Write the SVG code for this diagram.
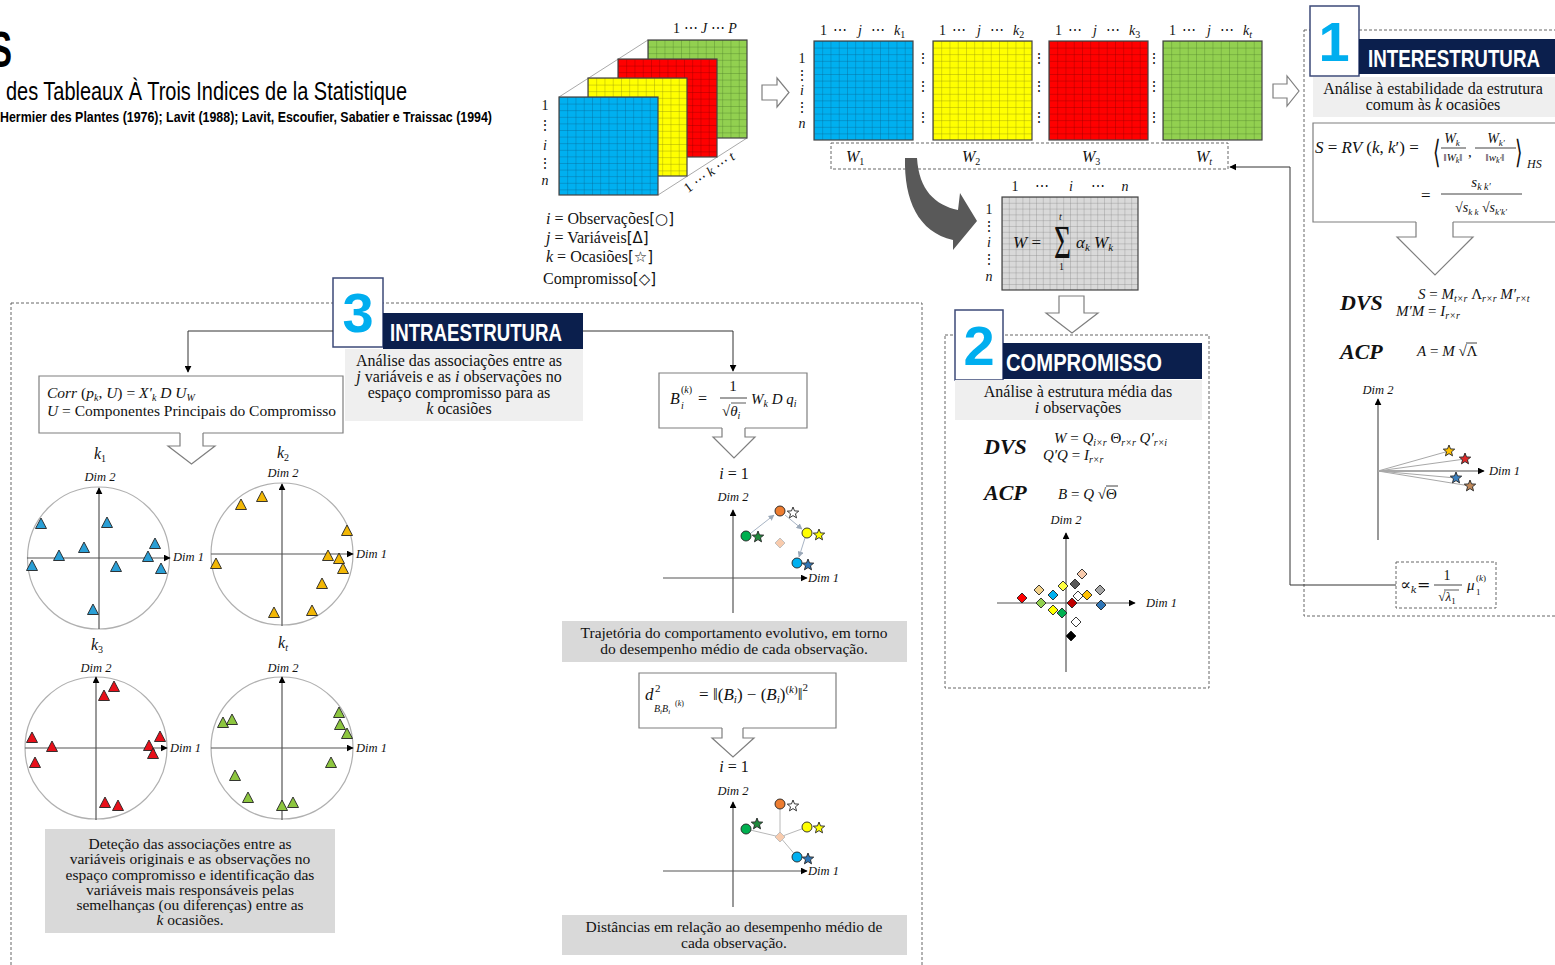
<svg xmlns="http://www.w3.org/2000/svg" width="1555" height="965" viewBox="0 0 1555 965">
<defs>
<style>
.s{font-family:"Liberation Serif","DejaVu Serif",serif;fill:#111}
.i{font-style:italic}
.b{font-weight:bold}
.hd{font-family:"Liberation Sans","DejaVu Sans",sans-serif;font-weight:bold;fill:#fff;font-size:24px}
.nm{font-family:"Liberation Sans","DejaVu Sans",sans-serif;font-weight:bold;fill:#00aeef;font-size:56px}
.dash{fill:none;stroke:#666;stroke-width:1;stroke-dasharray:3 2}
.ax{stroke:#555;stroke-width:1.2;fill:none}
.cir{fill:none;stroke:#b0b0b0;stroke-width:1.2}
.conn{stroke:#333;stroke-width:1;fill:none}
.hol{fill:#fff;stroke:#7f7f7f;stroke-width:1.2}
.box{fill:#fff;stroke:#7f7f7f;stroke-width:1.2}
.sub{fill:#efefef}
.desc{fill:#d9d9d9}
.nb{fill:#fff;stroke:#3d4a78;stroke-width:1.5}
.navy{fill:#0b1f4d}
.dl{font-size:12.5px;font-style:italic}
.pt{stroke:#222;stroke-width:0.9}
.pers{stroke:#aaa;stroke-width:1;fill:none}
.mat{stroke:#444;stroke-width:1.2}
.glin{stroke:#a8a8a8;stroke-width:1;fill:none}
</style>
<marker id="ah" viewBox="0 0 10 10" refX="9" refY="5" markerWidth="7" markerHeight="7" markerUnits="userSpaceOnUse" orient="auto"><path d="M0 0 L10 5 L0 10 Z" fill="#000"/></marker>
<marker id="ahg" viewBox="0 0 10 10" refX="9" refY="5" markerWidth="6" markerHeight="6" markerUnits="userSpaceOnUse" orient="auto"><path d="M0 0 L10 5 L0 10 Z" fill="#9aa8b8"/></marker>
<pattern id="pb" width="8.25" height="6.6" patternUnits="userSpaceOnUse"><rect width="8.25" height="6.6" fill="#00b0f0"/><path d="M0 0H8.25M0 0V6.6" stroke="#0a5f8a" stroke-width="0.7"/></pattern>
<pattern id="py" width="8.25" height="6.6" patternUnits="userSpaceOnUse"><rect width="8.25" height="6.6" fill="#ffff00"/><path d="M0 0H8.25M0 0V6.6" stroke="#8a8a10" stroke-width="0.7"/></pattern>
<pattern id="pr" width="8.25" height="6.6" patternUnits="userSpaceOnUse"><rect width="8.25" height="6.6" fill="#ff0000"/><path d="M0 0H8.25M0 0V6.6" stroke="#8a0000" stroke-width="0.7"/></pattern>
<pattern id="pg" width="8.25" height="6.6" patternUnits="userSpaceOnUse"><rect width="8.25" height="6.6" fill="#92d050"/><path d="M0 0H8.25M0 0V6.6" stroke="#4a7a28" stroke-width="0.7"/></pattern>
<pattern id="pw" width="6.8" height="5.8" patternUnits="userSpaceOnUse"><rect width="6.8" height="5.8" fill="#d9d9d9"/><path d="M0 0H6.8M0 0V5.8" stroke="#7a7a7a" stroke-width="0.6"/></pattern>
<path id="tri" d="M0 -6 L5.5 4.5 L-5.5 4.5 Z"/>
<path id="star" d="M0 -6 L1.53 -2.1 L5.71 -1.85 L2.47 0.8 L3.53 4.85 L0 2.6 L-3.53 4.85 L-2.47 0.8 L-5.71 -1.85 L-1.53 -2.1 Z"/>
<path id="dia" d="M0 -5 L5 0 L0 5 L-5 0 Z"/>
</defs>

<rect width="1555" height="965" fill="#fff"/>

<!-- Title -->
<g id="title">
<text x="-10" y="67" font-family="Liberation Sans, sans-serif" font-weight="bold" font-size="50" textLength="22" lengthAdjust="spacingAndGlyphs" fill="#000">S</text>
<text x="6" y="100" font-family="Liberation Sans, sans-serif" font-size="25" textLength="401" lengthAdjust="spacingAndGlyphs" fill="#000">des Tableaux À Trois Indices de la Statistique</text>
<text x="0" y="122" font-family="Liberation Sans, sans-serif" font-weight="bold" font-size="14" textLength="492" lengthAdjust="spacingAndGlyphs" fill="#000">Hermier des Plantes (1976); Lavit (1988); Lavit, Escoufier, Sabatier e Traissac (1994)</text>
</g>

<!-- Dashed section frames -->
<rect class="dash" x="11" y="303" width="911" height="700"/>
<rect class="dash" x="945" y="335" width="264" height="353"/>
<rect class="dash" x="1304" y="30" width="300" height="586"/>

<!-- Cube -->
<g id="cube">
<line class="pers" x1="559" y1="97" x2="648" y2="40"/>
<line class="pers" x1="658" y1="97" x2="747" y2="40"/>
<line class="pers" x1="658" y1="195" x2="747" y2="138"/>
<g transform="translate(648,40)"><rect width="99" height="98" fill="url(#pg)" class="mat"/></g>
<g transform="translate(618,59)"><rect width="99" height="98" fill="url(#pr)" class="mat"/></g>
<g transform="translate(588,78)"><rect width="99" height="98" fill="url(#py)" class="mat"/></g>
<g transform="translate(559,97)"><rect width="99" height="98" fill="url(#pb)" class="mat"/></g>
<text class="s" x="673" y="33" font-size="14">1 ⋯ <tspan class="i">J</tspan> ⋯ <tspan class="i">P</tspan></text>
<g class="s" font-size="14" text-anchor="middle">
<text x="545" y="110">1</text><text x="545" y="130">⋮</text><text x="545" y="150" class="i">i</text><text x="545" y="168">⋮</text><text x="545" y="185" class="i">n</text>
</g>
<text class="s" font-size="14" text-anchor="middle" transform="translate(712,176) rotate(-36)">1 ⋯ <tspan class="i">k</tspan> ⋯ <tspan class="i">t</tspan></text>
<g class="s" font-size="16">
<text x="546" y="224"><tspan class="i">i</tspan> = Observações<tspan font-family="DejaVu Sans, sans-serif" font-size="15">[○]</tspan></text>
<text x="546" y="243"><tspan class="i">j</tspan> = Variáveis<tspan font-family="DejaVu Sans, sans-serif" font-size="15">[Δ]</tspan></text>
<text x="546" y="262"><tspan class="i">k</tspan> = Ocasiões<tspan font-family="DejaVu Sans, sans-serif" font-size="15">[☆]</tspan></text>
<text x="543" y="284">Compromisso<tspan font-family="DejaVu Sans, sans-serif" font-size="15">[◇]</tspan></text>
</g>
</g>

<!-- Matrices W1..Wt -->
<g id="matrices">
<g transform="translate(814,41)"><rect width="99" height="99" fill="url(#pb)" class="mat"/></g>
<g transform="translate(933,41)"><rect width="99" height="99" fill="url(#py)" class="mat"/></g>
<g transform="translate(1049,41)"><rect width="99" height="99" fill="url(#pr)" class="mat"/></g>
<g transform="translate(1163,41)"><rect width="99" height="99" fill="url(#pg)" class="mat"/></g>
<g class="s" font-size="14">
<text y="35"><tspan x="820">1</tspan><tspan x="833">⋯</tspan><tspan x="858" class="i">j</tspan><tspan x="871">⋯</tspan><tspan x="894" class="i">k</tspan><tspan font-size="10" dy="3">1</tspan></text>
<text y="35"><tspan x="939">1</tspan><tspan x="952">⋯</tspan><tspan x="977" class="i">j</tspan><tspan x="990">⋯</tspan><tspan x="1013" class="i">k</tspan><tspan font-size="10" dy="3">2</tspan></text>
<text y="35"><tspan x="1055">1</tspan><tspan x="1068">⋯</tspan><tspan x="1093" class="i">j</tspan><tspan x="1106">⋯</tspan><tspan x="1129" class="i">k</tspan><tspan font-size="10" dy="3">3</tspan></text>
<text y="35"><tspan x="1169">1</tspan><tspan x="1182">⋯</tspan><tspan x="1207" class="i">j</tspan><tspan x="1220">⋯</tspan><tspan x="1243" class="i">k</tspan><tspan font-size="10" dy="3" class="i">t</tspan></text>
</g>
<g class="s" font-size="14" text-anchor="middle">
<text x="802" y="63">1</text><text x="802" y="80">⋮</text><text x="802" y="95" class="i">i</text><text x="802" y="112">⋮</text><text x="802" y="128" class="i">n</text>
<text x="923" y="63">⋮</text><text x="923" y="91">⋮</text><text x="923" y="122">⋮</text>
<text x="1039" y="63">⋮</text><text x="1039" y="91">⋮</text><text x="1039" y="122">⋮</text>
<text x="1154" y="63">⋮</text><text x="1154" y="91">⋮</text><text x="1154" y="122">⋮</text>
</g>
<rect class="dash" x="831" y="143" width="397" height="26"/>
<g class="s i" font-size="16">
<text x="846" y="162">W<tspan font-size="10" dy="3" font-style="normal">1</tspan></text>
<text x="962" y="162">W<tspan font-size="10" dy="3" font-style="normal">2</tspan></text>
<text x="1082" y="162">W<tspan font-size="10" dy="3" font-style="normal">3</tspan></text>
<text x="1196" y="162">W<tspan font-size="10" dy="3">t</tspan></text>
</g>
</g>

<!-- Hollow right arrows -->
<polygon class="hol" points="762,85 777,85 777,78 789,92.5 777,107 777,100 762,100"/>
<polygon class="hol" points="1273,84 1287,84 1287,76 1299,91 1287,106 1287,98 1273,98"/>

<!-- Curved arrow -->
<path d="M905 158 C 904 200, 918 232, 953 240 L 953 250 L 977 221 L 960 193 L 958 210 C 935 205, 919 190, 917 158 Z" fill="#595959"/>

<!-- Compromise matrix W -->
<g id="compromise-matrix">
<g transform="translate(1002,197)"><rect width="136" height="93" fill="url(#pw)" class="mat"/></g>
<g class="s" font-size="14" text-anchor="middle">
<text x="1015" y="191">1</text><text x="1042" y="191">⋯</text><text x="1071" y="191" class="i">i</text><text x="1098" y="191">⋯</text><text x="1125" y="191" class="i">n</text>
<text x="989" y="214">1</text><text x="989" y="231">⋮</text><text x="989" y="247" class="i">i</text><text x="989" y="264">⋮</text><text x="989" y="281" class="i">n</text>
</g>
<g class="s" font-size="17">
<text x="1013" y="248"><tspan class="i">W</tspan> =</text>
<text x="1054" y="258" font-size="46" textLength="17" lengthAdjust="spacingAndGlyphs">Σ</text>
<text x="1059" y="220" font-size="10" class="i">t</text>
<text x="1059" y="270" font-size="10">1</text>
<text x="1076" y="248" class="i">α<tspan font-size="11" dy="3">k</tspan><tspan dy="-3"> W</tspan><tspan font-size="11" dy="3">k</tspan></text>
</g>
</g>
<polygon class="hol" points="1059,296 1084,296 1084,313 1098,313 1072,333 1046,313 1059,313"/>

<!-- Section 1 -->
<g id="sec1">
<rect class="nb" x="1310" y="6" width="49" height="70"/>
<text class="nm" x="1334" y="61" text-anchor="middle">1</text>
<rect class="navy" x="1359" y="39" width="200" height="35"/>
<text class="hd" x="1368" y="67" textLength="172" lengthAdjust="spacingAndGlyphs">INTERESTRUTURA</text>
<rect class="sub" x="1313" y="77" width="250" height="40"/>
<g class="s" font-size="16" text-anchor="middle">
<text x="1433" y="94">Análise à estabilidade da estrutura</text>
<text x="1433" y="110">comum às <tspan class="i">k</tspan> ocasiões</text>
</g>
<path class="box" d="M1416 222 H1313 V123 H1560 M1453 222 H1560" fill="none"/>
<path class="hol" d="M1416 222 V237 H1397 L1435 275 L1473 237 H1453 V222"/>
<g class="s">
<text x="1315" y="153" font-size="17"><tspan class="i">S</tspan> = <tspan class="i">RV</tspan> (<tspan class="i">k</tspan>, <tspan class="i">k</tspan>′) =</text>
<text x="1433" y="163" font-size="32" font-family="DejaVu Sans, sans-serif" transform="translate(1433,0) scale(0.6,1) translate(-1433,0)">⟨</text>
<text x="1452" y="143" font-size="14" text-anchor="middle" class="i">W<tspan font-size="9" dy="3">k</tspan></text>
<line x1="1441" y1="148" x2="1466" y2="148" stroke="#111" stroke-width="0.8"/>
<text x="1453" y="161" font-size="11" text-anchor="middle">‖<tspan class="i">W</tspan><tspan font-size="8" dy="2" class="i">k</tspan><tspan dy="-2">‖</tspan></text>
<text x="1468" y="157" font-size="15">,</text>
<text x="1496" y="143" font-size="14" text-anchor="middle" class="i">W<tspan font-size="9" dy="3">k′</tspan></text>
<line x1="1475" y1="148" x2="1516" y2="148" stroke="#111" stroke-width="0.8"/>
<text x="1495" y="161" font-size="11" text-anchor="middle">‖<tspan class="i">w</tspan><tspan font-size="8" dy="2" class="i">k′</tspan><tspan dy="-2">‖</tspan></text>
<text x="1515" y="163" font-size="32" font-family="DejaVu Sans, sans-serif" transform="translate(1515,0) scale(0.6,1) translate(-1515,0)">⟩</text>
<text x="1527" y="168" font-size="12" class="i">HS</text>
<text x="1421" y="201" font-size="17">=</text>
<text x="1481" y="187" font-size="15" text-anchor="middle" class="i">s<tspan font-size="10" dy="3">k k′</tspan></text>
<line x1="1441" y1="194" x2="1522" y2="194" stroke="#111" stroke-width="0.8"/>
<text x="1481" y="212" font-size="14" text-anchor="middle">√<tspan class="i">s</tspan><tspan font-size="9" dy="3" class="i">k k</tspan><tspan dy="-3"> √</tspan><tspan class="i">s</tspan><tspan font-size="9" dy="3" class="i">k′k′</tspan></text>
</g>
<g class="s">
<text x="1340" y="310" font-size="22" class="i b">DVS</text>
<text x="1418" y="299" font-size="15"><tspan class="i">S</tspan> = <tspan class="i">M</tspan><tspan font-size="10" dy="3" class="i">t×r</tspan><tspan dy="-3"> Λ</tspan><tspan font-size="10" dy="3" class="i">r×r</tspan><tspan dy="-3" class="i"> M′</tspan><tspan font-size="10" dy="3" class="i">r×t</tspan></text>
<text x="1396" y="316" font-size="15"><tspan class="i">M′M</tspan> = <tspan class="i">I</tspan><tspan font-size="10" dy="3" class="i">r×r</tspan></text>
<text x="1340" y="359" font-size="22" class="i b">ACP</text>
<text x="1417" y="356" font-size="15"><tspan class="i">A</tspan> = <tspan class="i">M</tspan> √Λ</text>
<line x1="1466" y1="343" x2="1477" y2="343" stroke="#111" stroke-width="0.8"/>
</g>
<line class="ax" x1="1378" y1="540" x2="1378" y2="399" marker-end="url(#ah)"/>
<line class="ax" x1="1378" y1="471" x2="1484" y2="471" marker-end="url(#ah)"/>
<text class="s dl" x="1378" y="394" text-anchor="middle">Dim 2</text>
<text class="s dl" x="1489" y="475">Dim 1</text>
<g class="glin">
<line x1="1378" y1="471" x2="1449" y2="451"/>
<line x1="1378" y1="471" x2="1465" y2="459"/>
<line x1="1378" y1="471" x2="1456" y2="478"/>
<line x1="1378" y1="471" x2="1470" y2="486"/>
</g>
<g class="pt">
<use href="#star" x="1449" y="451" fill="#ffc000"/>
<use href="#star" x="1465" y="459" fill="#e02828"/>
<use href="#star" x="1456" y="478" fill="#3a80c0"/>
<use href="#star" x="1470" y="486" fill="#c08858"/>
</g>
<rect class="dash" x="1396" y="562" width="100" height="46"/>
<g class="s">
<text x="1400" y="590" font-size="16" font-family="DejaVu Serif, serif">∝<tspan font-size="10" dy="3" class="i">k</tspan><tspan dy="-3">=</tspan></text>
<text x="1447" y="580" font-size="14" text-anchor="middle">1</text>
<line x1="1434" y1="585" x2="1462" y2="585" stroke="#111" stroke-width="0.8"/>
<text x="1447" y="601" font-size="13" text-anchor="middle">√<tspan class="i">λ</tspan><tspan font-size="9" dy="3">1</tspan></text>
<line x1="1444" y1="590" x2="1459" y2="590" stroke="#111" stroke-width="0.7"/>
<text x="1467" y="590" font-size="15" class="i">μ</text>
<text x="1476" y="581" font-size="9">(<tspan class="i">k</tspan>)</text>
<text x="1476" y="595" font-size="9">1</text>
</g>
</g>

<!-- Section 2 -->
<g id="sec2">
<rect class="nb" x="955" y="310" width="48" height="70"/>
<text class="nm" x="979" y="365" text-anchor="middle">2</text>
<rect class="navy" x="1003" y="343" width="199" height="36"/>
<text class="hd" x="1006" y="371" textLength="156" lengthAdjust="spacingAndGlyphs">COMPROMISSO</text>
<rect class="sub" x="955" y="380" width="247" height="40"/>
<g class="s" font-size="16" text-anchor="middle">
<text x="1078" y="397">Análise à estrutura média das</text>
<text x="1078" y="413"><tspan class="i">i</tspan> observações</text>
</g>
<g class="s">
<text x="984" y="454" font-size="22" class="i b">DVS</text>
<text x="1054" y="443" font-size="15"><tspan class="i">W</tspan> = <tspan class="i">Q</tspan><tspan font-size="10" dy="3" class="i">i×r</tspan><tspan dy="-3"> Θ</tspan><tspan font-size="10" dy="3" class="i">r×r</tspan><tspan dy="-3" class="i"> Q′</tspan><tspan font-size="10" dy="3" class="i">r×i</tspan></text>
<text x="1043" y="460" font-size="15"><tspan class="i">Q′Q</tspan> = <tspan class="i">I</tspan><tspan font-size="10" dy="3" class="i">r×r</tspan></text>
<text x="984" y="500" font-size="22" class="i b">ACP</text>
<text x="1058" y="499" font-size="15"><tspan class="i">B</tspan> = <tspan class="i">Q</tspan> √Θ</text>
<line x1="1106" y1="486" x2="1118" y2="486" stroke="#111" stroke-width="0.8"/>
</g>
<line class="ax" x1="1066" y1="672" x2="1066" y2="533" marker-end="url(#ah)"/>
<line class="ax" x1="997" y1="603" x2="1135" y2="603" marker-end="url(#ah)"/>
<text class="s dl" x="1066" y="524" text-anchor="middle">Dim 2</text>
<text class="s dl" x="1146" y="607">Dim 1</text>
<g class="pt">
<use href="#dia" x="1022" y="598" fill="#ff0000"/>
<use href="#dia" x="1041" y="603" fill="#92d050"/>
<use href="#dia" x="1039" y="590" fill="#f4d38a"/>
<use href="#dia" x="1053" y="595" fill="#00b0f0"/>
<use href="#dia" x="1063" y="586" fill="#ffff40"/>
<use href="#dia" x="1053" y="610" fill="#ffff00"/>
<use href="#dia" x="1062" y="613" fill="#00b050"/>
<use href="#dia" x="1075" y="584" fill="#595959"/>
<use href="#dia" x="1082" y="574" fill="#f8cbad"/>
<use href="#dia" x="1072" y="603" fill="#c00000"/>
<use href="#dia" x="1078" y="596" fill="#ffffff"/>
<use href="#dia" x="1087" y="595" fill="#ffc000"/>
<use href="#dia" x="1100" y="590" fill="#a6a6a6"/>
<use href="#dia" x="1101" y="605" fill="#2e75b6"/>
<use href="#dia" x="1076" y="622" fill="#ffffff"/>
<use href="#dia" x="1071" y="636" fill="#000000"/>
</g>
</g>

<!-- Section 3 -->
<g id="sec3">
<rect class="nb" x="333" y="278" width="50" height="69"/>
<text class="nm" x="358" y="332" text-anchor="middle">3</text>
<rect class="navy" x="383" y="313" width="200" height="36"/>
<text class="hd" x="390" y="341" textLength="172" lengthAdjust="spacingAndGlyphs">INTRAESTRUTURA</text>
<rect class="sub" x="345" y="349" width="238" height="72"/>
<g class="s" font-size="16" text-anchor="middle">
<text x="459" y="366">Análise das associações entre as</text>
<text x="459" y="382"><tspan class="i">j</tspan> variáveis  e as <tspan class="i">i</tspan> observações no</text>
<text x="459" y="398">espaço compromisso  para as</text>
<text x="459" y="414"><tspan class="i">k</tspan> ocasiões</text>
</g>
</g>

<!-- Corr box -->
<g id="corr">
<path class="box" d="M180 433 H39 V376 H343 V433 H203" fill="none"/>
<g class="s" font-size="15.5">
<text x="47" y="398"><tspan class="i">Corr</tspan> (<tspan class="i">p</tspan><tspan font-size="10" dy="3" class="i">k</tspan><tspan dy="-3">, </tspan><tspan class="i">U</tspan>) = <tspan class="i">X′</tspan><tspan font-size="10" dy="3" class="i">k</tspan><tspan dy="-3" class="i"> D U</tspan><tspan font-size="10" dy="3" class="i">W</tspan></text>
<text x="47" y="416"><tspan class="i">U</tspan> = Componentes Principais do Compromisso</text>
</g>
<path class="hol" d="M180 433 V446 H168 L191.5 464 L215 446 H203 V433"/>
</g>

<!-- Correlation circles -->
<g id="circle-k1">
<text class="s" x="100" y="459" font-size="16" text-anchor="middle"><tspan class="i">k</tspan><tspan font-size="10" dy="3">1</tspan></text>
<circle class="cir" cx="98.5" cy="558" r="71"/>
<line class="ax" x1="99" y1="629" x2="99" y2="488" marker-end="url(#ah)"/>
<line class="ax" x1="27" y1="558" x2="170" y2="558" marker-end="url(#ah)"/>
<text class="s dl" x="100" y="481" text-anchor="middle">Dim 2</text>
<text class="s dl" x="173" y="561">Dim 1</text>
<g class="pt" fill="#2a9fd6">
<use href="#tri" x="41" y="524"/><use href="#tri" x="107" y="523"/><use href="#tri" x="84" y="548"/><use href="#tri" x="59" y="556"/><use href="#tri" x="32" y="566"/><use href="#tri" x="116" y="567"/><use href="#tri" x="155" y="544"/><use href="#tri" x="148" y="557"/><use href="#tri" x="161" y="569"/><use href="#tri" x="93" y="610"/>
</g>
</g>
<g id="circle-k2">
<text class="s" x="283" y="458" font-size="16" text-anchor="middle"><tspan class="i">k</tspan><tspan font-size="10" dy="3">2</tspan></text>
<circle class="cir" cx="282" cy="554" r="71"/>
<line class="ax" x1="282" y1="626" x2="282" y2="484" marker-end="url(#ah)"/>
<line class="ax" x1="211" y1="554" x2="353" y2="554" marker-end="url(#ah)"/>
<text class="s dl" x="283" y="477" text-anchor="middle">Dim 2</text>
<text class="s dl" x="356" y="558">Dim 1</text>
<g class="pt" fill="#f2b705">
<use href="#tri" x="241" y="505"/><use href="#tri" x="262" y="497"/><use href="#tri" x="347" y="531"/><use href="#tri" x="216" y="564"/><use href="#tri" x="328" y="556"/><use href="#tri" x="339" y="559"/><use href="#tri" x="343" y="569"/><use href="#tri" x="322" y="584"/><use href="#tri" x="274" y="613"/><use href="#tri" x="312" y="611"/>
</g>
</g>
<g id="circle-k3">
<text class="s" x="97" y="650" font-size="16" text-anchor="middle"><tspan class="i">k</tspan><tspan font-size="10" dy="3">3</tspan></text>
<circle class="cir" cx="96" cy="748" r="71"/>
<line class="ax" x1="96" y1="820" x2="96" y2="677" marker-end="url(#ah)"/>
<line class="ax" x1="25" y1="748" x2="167" y2="748" marker-end="url(#ah)"/>
<text class="s dl" x="96" y="672" text-anchor="middle">Dim 2</text>
<text class="s dl" x="170" y="752">Dim 1</text>
<g class="pt" fill="#e8101a">
<use href="#tri" x="114" y="687"/><use href="#tri" x="104" y="696"/><use href="#tri" x="32" y="738"/><use href="#tri" x="52" y="747"/><use href="#tri" x="35" y="763"/><use href="#tri" x="160" y="737"/><use href="#tri" x="149" y="746"/><use href="#tri" x="153" y="754"/><use href="#tri" x="105" y="803"/><use href="#tri" x="118" y="806"/>
</g>
</g>
<g id="circle-kt">
<text class="s" x="283" y="648" font-size="16" text-anchor="middle"><tspan class="i">k</tspan><tspan font-size="10" dy="3" class="i">t</tspan></text>
<circle class="cir" cx="282" cy="748" r="71"/>
<line class="ax" x1="282" y1="820" x2="282" y2="677" marker-end="url(#ah)"/>
<line class="ax" x1="211" y1="748" x2="353" y2="748" marker-end="url(#ah)"/>
<text class="s dl" x="283" y="672" text-anchor="middle">Dim 2</text>
<text class="s dl" x="356" y="752">Dim 1</text>
<g class="pt" fill="#8dc63f">
<use href="#tri" x="223" y="723"/><use href="#tri" x="232" y="720"/><use href="#tri" x="339" y="713"/><use href="#tri" x="340" y="725"/><use href="#tri" x="347" y="734"/><use href="#tri" x="331" y="763"/><use href="#tri" x="235" y="776"/><use href="#tri" x="248" y="798"/><use href="#tri" x="282" y="806"/><use href="#tri" x="293" y="803"/>
</g>
</g>

<g id="desc-left">
<rect class="desc" x="45" y="829" width="290" height="104"/>
<g class="s" font-size="15.5" text-anchor="middle">
<text x="190" y="849">Deteção das associações entre as</text>
<text x="190" y="864">variáveis  originais  e as observações no</text>
<text x="190" y="880">espaço compromisso  e identificação das</text>
<text x="190" y="895">variáveis  mais responsáveis pelas</text>
<text x="190" y="910">semelhanças (ou diferenças) entre as</text>
<text x="190" y="925"><tspan class="i">k</tspan> ocasiões.</text>
</g>
</g>

<!-- B box -->
<g id="b-box">
<path class="box" d="M722 428 H659 V373 H807 V428 H745" fill="none"/>
<g class="s">
<text x="670" y="404" font-size="16" class="i">B</text>
<text x="681" y="393" font-size="10">(<tspan class="i">k</tspan>)</text>
<text x="681" y="409" font-size="10" class="i">i</text>
<text x="698" y="404" font-size="16">=</text>
<text x="733" y="391" font-size="15" text-anchor="middle">1</text>
<line x1="720" y1="398" x2="747" y2="398" stroke="#111" stroke-width="0.8"/>
<text x="722" y="416" font-size="15">√<tspan class="i">θ</tspan><tspan font-size="10" dy="3" class="i">i</tspan></text>
<line x1="731" y1="403" x2="746" y2="403" stroke="#111" stroke-width="0.7"/>
<text x="751" y="404" font-size="15" class="i">W<tspan font-size="10" dy="3">k</tspan><tspan dy="-3"> D q</tspan><tspan font-size="10" dy="3">i</tspan></text>
</g>
<path class="hol" d="M722 428 V437 H713 L734 458 L755 437 H745 V428"/>
<text class="s" x="734" y="479" font-size="16" text-anchor="middle"><tspan class="i">i</tspan> = 1</text>
</g>

<g id="plot-trajectory">
<line class="ax" x1="733" y1="613" x2="733" y2="510" marker-end="url(#ah)"/>
<line class="ax" x1="663" y1="578" x2="807" y2="578" marker-end="url(#ah)"/>
<text class="s dl" x="733" y="501" text-anchor="middle">Dim 2</text>
<text class="s dl" x="808" y="582">Dim 1</text>
<g stroke="#a8b4c4" stroke-width="1" fill="none">
<line x1="751" y1="533" x2="774" y2="515" marker-end="url(#ahg)"/>
<line x1="785" y1="515" x2="802" y2="529" marker-end="url(#ahg)"/>
<line x1="805" y1="538" x2="799" y2="557" marker-end="url(#ahg)"/>
</g>
<g class="pt">
<use href="#dia" x="780" y="543" fill="#f8cbad" stroke="#bbb"/>
<circle cx="746" cy="536" r="5" fill="#00b050"/><use href="#star" x="758" y="537" fill="#1e8a3c"/>
<circle cx="780" cy="511" r="5" fill="#ed7d31"/><use href="#star" x="793" y="513" fill="#ffffff"/>
<circle cx="807" cy="533" r="5" fill="#ffff00"/><use href="#star" x="819" y="535" fill="#ffff00"/>
<circle cx="797" cy="563" r="5" fill="#00b0f0"/><use href="#star" x="808" y="565" fill="#2e75b6"/>
</g>
</g>

<g id="desc-trajectory">
<rect class="desc" x="562" y="621" width="345" height="41"/>
<g class="s" font-size="15.5" text-anchor="middle">
<text x="734" y="638">Trajetória do comportamento evolutivo, em torno</text>
<text x="734" y="654">do desempenho médio de cada observação.</text>
</g>
</g>

<!-- d box -->
<g id="d-box">
<path class="box" d="M722 728 H639 V673 H836 V728 H743" fill="none"/>
<g class="s">
<text x="645" y="700" font-size="17" class="i">d</text>
<text x="655" y="692" font-size="11">2</text>
<text x="654" y="712" font-size="10" class="i">B<tspan font-size="7" dy="2">i</tspan><tspan dy="-2">B</tspan><tspan font-size="7" dy="2">i</tspan></text>
<text x="675" y="706" font-size="8">(<tspan class="i">k</tspan>)</text>
<text x="699" y="700" font-size="17">=</text>
<text x="713" y="700" font-size="17">‖(<tspan class="i">B</tspan><tspan font-size="11" dy="3" class="i">i</tspan><tspan dy="-3">) − (</tspan><tspan class="i">B</tspan><tspan font-size="11" dy="3" class="i">i</tspan><tspan dy="-3">)</tspan><tspan font-size="11" dy="-7">(</tspan><tspan font-size="11" class="i">k</tspan><tspan font-size="11">)</tspan><tspan dy="7">‖</tspan><tspan font-size="11" dy="-9">2</tspan></text>
</g>
<path class="hol" d="M722 728 V738 H712 L733 757 L754 738 H743 V728"/>
<text class="s" x="734" y="772" font-size="16" text-anchor="middle"><tspan class="i">i</tspan> = 1</text>
</g>

<g id="plot-distances">
<line class="ax" x1="733" y1="907" x2="733" y2="802" marker-end="url(#ah)"/>
<line class="ax" x1="663" y1="871" x2="807" y2="871" marker-end="url(#ah)"/>
<text class="s dl" x="733" y="795" text-anchor="middle">Dim 2</text>
<text class="s dl" x="808" y="875">Dim 1</text>
<g stroke="#b8b8b8" stroke-width="1">
<line x1="780" y1="837" x2="780" y2="804"/>
<line x1="780" y1="837" x2="746" y2="829"/>
<line x1="780" y1="837" x2="807" y2="827"/>
<line x1="780" y1="837" x2="797" y2="857"/>
</g>
<g class="pt">
<use href="#dia" x="780" y="837" fill="#f8cbad" stroke="#bbb"/>
<circle cx="780" cy="804" r="5" fill="#ed7d31"/><use href="#star" x="793" y="806" fill="#ffffff"/>
<circle cx="746" cy="829" r="5" fill="#00b050"/><use href="#star" x="757" y="824" fill="#1e8a3c"/>
<circle cx="807" cy="827" r="5" fill="#ffff00"/><use href="#star" x="819" y="828" fill="#ffff00"/>
<circle cx="797" cy="857" r="5" fill="#00b0f0"/><use href="#star" x="808" y="859" fill="#2e75b6"/>
</g>
</g>

<g id="desc-distances">
<rect class="desc" x="562" y="915" width="345" height="40"/>
<g class="s" font-size="15.5" text-anchor="middle">
<text x="734" y="932">Distâncias em relação ao desempenho médio de</text>
<text x="734" y="948">cada observação.</text>
</g>
</g>

<!-- Connectors -->
<g id="connectors">
<path class="conn" d="M333 331 H188 V372" marker-end="url(#ah)"/>
<path class="conn" d="M583 331 H733 V371" marker-end="url(#ah)"/>
<path class="conn" d="M1396 585 H1290 V167 H1230" marker-end="url(#ah)"/>
</g>
</svg>
